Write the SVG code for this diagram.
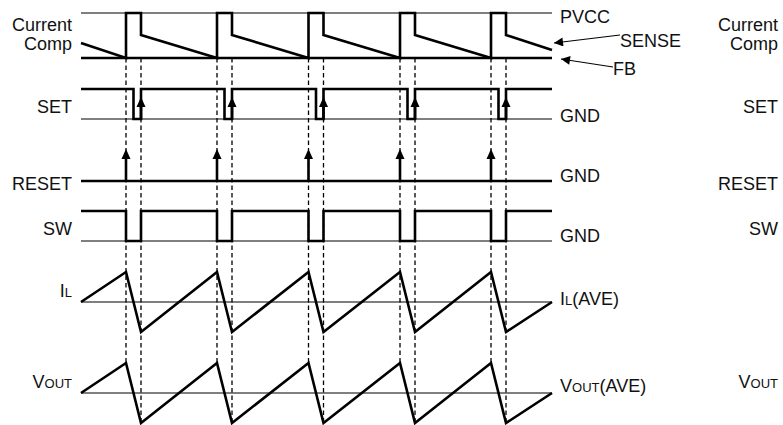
<svg xmlns="http://www.w3.org/2000/svg" width="783" height="425" viewBox="0 0 783 425">
<style>
text{font-family:"Liberation Sans",Arial,sans-serif;font-size:18px;fill:#111}
.r{text-anchor:end}
.sc{font-size:13px}
.thick{fill:none;stroke:#000;stroke-width:2.6;stroke-linejoin:miter}
.thin{fill:none;stroke:#000;stroke-width:1.2}
.dash{fill:none;stroke:#000;stroke-width:1.3;stroke-dasharray:4.5 3}
.ptr{fill:none;stroke:#000;stroke-width:1.2}
</style>
<defs>
<marker id="ah" viewBox="0 0 10 10" refX="10" refY="5" markerWidth="10" markerHeight="9" markerUnits="userSpaceOnUse" orient="auto">
<path d="M0,0 L10,5 L0,10 Z" fill="#000"/>
</marker>
<path id="up" d="M0,0 L-4.5,10 L4.5,10 Z" fill="#000"/>
</defs>
<rect width="783" height="425" fill="#fff"/>

<g id="connectors">
<path class="dash" d="M126,58V363M217,58V363M308.5,58V363M400,58V363M491,58V363"/>
<path class="dash" d="M141,58V423M232,58V423M323.5,58V423M415,58V423M506,58V423"/>
<line class="ptr" x1="620" y1="35" x2="554" y2="43" marker-end="url(#ah)"/>
<line class="ptr" x1="613" y1="67" x2="561" y2="59" marker-end="url(#ah)"/>
</g>

<g id="current-comp">
<line class="thin" x1="81" y1="13" x2="552" y2="13"/>
<line class="thick" x1="81" y1="58" x2="552" y2="58"/>
<path class="thick" d="M81,43 L126,58 V13 H141 V35 L217,58 V13 H232 V35 L308.5,58 V13 H323.5 V35 L400,58 V13 H415 V35 L491,58 V13 H506 V35 L552,50"/>
<text class="r" x="72" y="31">Current</text>
<text class="r" x="72" y="50">Comp</text>
<text x="560" y="23">PVCC</text>
<text x="620" y="47">SENSE</text>
<text x="613" y="75">FB</text>
</g>

<g id="set">
<line class="thin" x1="81" y1="119" x2="552" y2="119"/>
<path class="thick" d="M81,89 H133.5 V119 H141 V89 H224.5 V119 H232 V89 H316 V119 H323.5 V89 H407.5 V119 H415 V89 H498.5 V119 H506 V89 H552"/>
<path class="thick" d="M141,119V105M232,119V105M323.5,119V105M415,119V105M506,119V105"/>
<use href="#up" x="141" y="97"/>
<use href="#up" x="232" y="97"/>
<use href="#up" x="323.5" y="97"/>
<use href="#up" x="415" y="97"/>
<use href="#up" x="506" y="97"/>
<text class="r" x="72" y="113">SET</text>
<text x="560" y="122">GND</text>
</g>

<g id="reset">
<line class="thick" x1="81" y1="181" x2="552" y2="181"/>
<path class="thick" d="M126,181V158M217,181V158M308.5,181V158M400,181V158M491,181V158"/>
<use href="#up" x="126" y="149"/>
<use href="#up" x="217" y="149"/>
<use href="#up" x="308.5" y="149"/>
<use href="#up" x="400" y="149"/>
<use href="#up" x="491" y="149"/>
<text class="r" x="72" y="190">RESET</text>
<text x="560" y="182">GND</text>
</g>

<g id="sw">
<line class="thin" x1="81" y1="241" x2="552" y2="241"/>
<path class="thick" d="M81,211 H126 V241 H141 V211 H217 V241 H232 V211 H308.5 V241 H323.5 V211 H400 V241 H415 V211 H491 V241 H506 V211 H552"/>
<text class="r" x="72" y="235">SW</text>
<text x="560" y="242">GND</text>
</g>

<g id="il">
<line class="thin" x1="81" y1="302" x2="552" y2="302"/>
<path class="thick" d="M81,302 L126,272 L141,332 L217,272 L232,332 L308.5,272 L323.5,332 L400,272 L415,332 L491,272 L506,332 L552,302"/>
<text class="r" x="72" y="297">I<tspan class="sc">L</tspan></text>
<text x="560" y="305">I<tspan class="sc">L</tspan>(AVE)</text>
</g>

<g id="vout">
<line class="thin" x1="81" y1="393" x2="552" y2="393"/>
<path class="thick" d="M81,393 L126,363 L141,423 L217,363 L232,423 L308.5,363 L323.5,423 L400,363 L415,423 L491,363 L506,423 L552,393"/>
<text class="r" x="72" y="388">V<tspan class="sc">OUT</tspan></text>
<text x="560" y="392">V<tspan class="sc">OUT</tspan>(AVE)</text>
</g>

<g id="next-figure-labels">
<text class="r" x="778" y="31">Current</text>
<text class="r" x="778" y="50">Comp</text>
<text class="r" x="778" y="113">SET</text>
<text class="r" x="778" y="190">RESET</text>
<text class="r" x="778" y="235">SW</text>
<text class="r" x="778" y="388">V<tspan class="sc">OUT</tspan></text>
</g>
</svg>
